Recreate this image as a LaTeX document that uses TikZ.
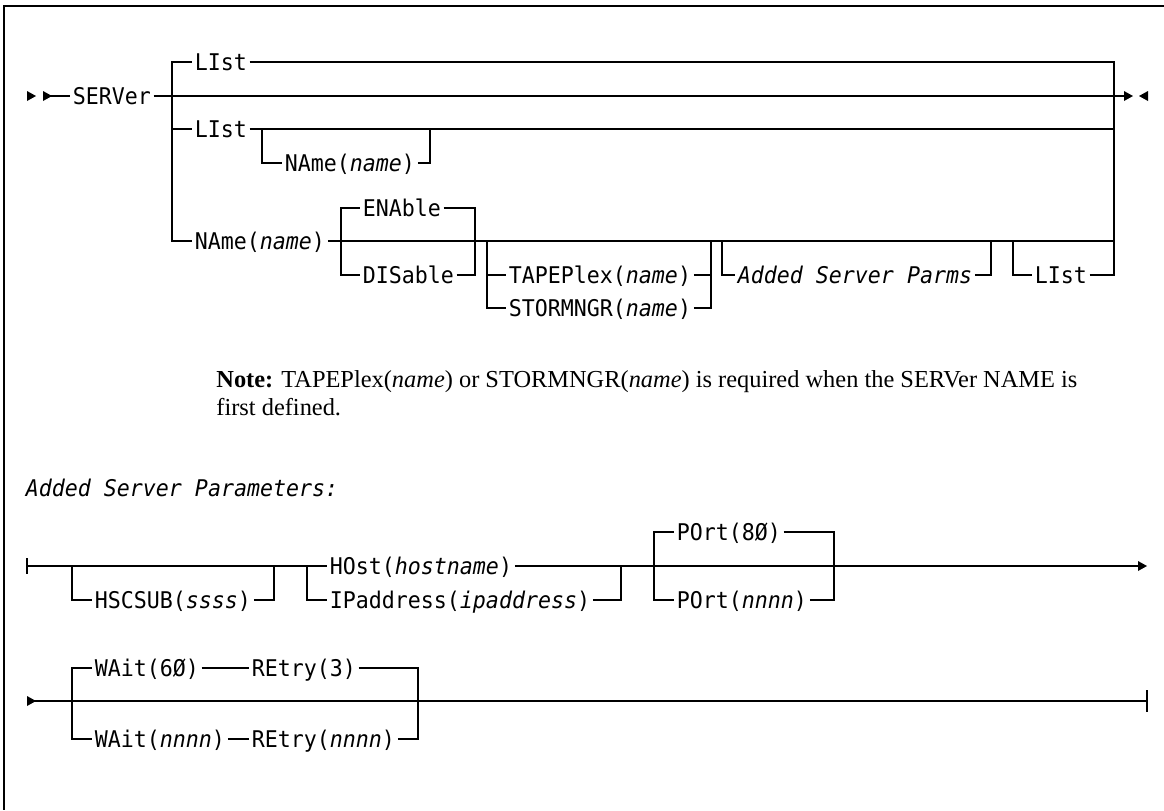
\documentclass[tikz,border=0pt]{standalone}
\usepackage{fontspec}
\setmainfont{Liberation Serif}
\newfontfamily\railfont[FakeStretch=0.94]{DejaVu Sans Mono}
\newcommand{\kwfont}{\railfont\fontsize{11.5pt}{14pt}\selectfont}
\newcommand{\notefont}{\fontsize{12.2pt}{14pt}\selectfont}
\usepackage{tikz}
\usepackage{xcolor}

\begin{document}
\begin{tikzpicture}[
        x=0.5pt, y=-0.5pt,
        kw/.style={font=\kwfont, anchor=west, inner xsep=1.2pt, inner ysep=0pt, text height=8.4pt, text depth=0pt},
        rail/.style={line width=0.85pt},
        rtri/.pic={\fill (0,-5) -- (9,0) -- (0,5) -- cycle;},
        ltri/.pic={\fill (0,0) -- (9,-5) -- (9,5) -- cycle;}
    ]
        \useasboundingbox (0,0) rectangle (1164,810);
        \draw[line width=1pt] (1164,6) -- (4,6) -- (4,810);

        \node[kw] (SV) at (70,96) {SERVer};
        \node[kw] (L1) at (192,62) {LIst};
        \node[kw] (L2) at (192,129) {LIst};
        \node[kw] (N2) at (282,163) {NAme(\textit{name})};
        \node[kw] (N3) at (192,241) {NAme(\textit{name})};
        \node[kw] (EN) at (360,208) {ENAble};
        \node[kw] (DI) at (360,275) {DISable};
        \node[kw] (TP) at (506,275) {TAPEPlex(\textit{name})};
        \node[kw] (SM) at (506,308) {STORMNGR(\textit{name})};
        \node[kw] (AP) at (735,275) {\textit{Added Server Parms}};
        \node[kw] (L3) at (1032,275) {LIst};

        \coordinate (st) at (43,96);
        \coordinate (jl) at (172,96);
        \coordinate (jr) at (1114,96);
        \coordinate (en) at (1124,96);
        \coordinate (k1) at (262,129);
        \coordinate (k2) at (430,129);
        \coordinate (e1) at (341,241);
        \coordinate (e2) at (475,241);
        \coordinate (t1) at (487,241);
        \coordinate (t2) at (711,241);
        \coordinate (g1) at (722,241);
        \coordinate (g2) at (991,241);
        \coordinate (h1) at (1013,241);

        \pic at (27,96) {rtri};
        \pic at (st) {rtri};
        \pic at (en) {rtri};
        \pic at (1139,96) {ltri};
        \draw[rail] (st) -- (SV.west);
        \draw[rail] (SV.east) -- (en);
        \draw[rail] (jl) |- (L1.west);
        \draw[rail] (jl) |- (L2.west);
        \draw[rail] (jl) |- (N3.west);
        \draw[rail] (L1.east) -| (jr);
        \draw[rail] (L2.east) -| (jr);
        \draw[rail] (L3.east) -| (jr);
        \draw[rail] (k1) |- (N2.west);
        \draw[rail] (N2.east) -| (k2);
        \draw[rail] (N3.east) -- (N3.east -| jr);
        \draw[rail] (e1) |- (EN.west);
        \draw[rail] (e1) |- (DI.west);
        \draw[rail] (EN.east) -| (e2);
        \draw[rail] (DI.east) -| (e2);
        \draw[rail] (t1) |- (TP.west);
        \draw[rail] (t1) |- (SM.west);
        \draw[rail] (TP.east) -| (t2);
        \draw[rail] (SM.east) -| (t2);
        \draw[rail] (g1) |- (AP.west);
        \draw[rail] (AP.east) -| (g2);
        \draw[rail] (h1) |- (L3.west);

        \node[anchor=base west, inner sep=0pt, font=\notefont] (n1) at (216,387) {\textbf{Note:} TAPEPlex(\textit{name}) or STORMNGR(\textit{name}) is required when the SERVer NAME is};
        \node[anchor=base west, inner sep=0pt, font=\notefont] (n2) at (216,415) {first defined.};

        \node[kw] (AS) at (23,488) {\textit{Added Server Parameters:}};
        \node[kw] (HS) at (92,600) {HSCSUB(\textit{ssss})};
        \node[kw] (HO) at (327,566) {HOst(\textit{hostname})};
        \node[kw] (IP) at (327,600) {IPaddress(\textit{ipaddress})};
        \node[kw] (P1) at (674,532) {POrt(8Ø)};
        \node[kw] (P2) at (674,600) {POrt(\textit{nnnn})};

        \coordinate (b0) at (27,566);
        \coordinate (b1) at (72,566);
        \coordinate (b2) at (274,566);
        \coordinate (c1) at (307,566);
        \coordinate (c2) at (621,566);
        \coordinate (d1) at (654,566);
        \coordinate (d2) at (834,566);
        \coordinate (b9) at (1138,566);

        \draw[rail] (b0) ++(0,-8) -- ++(0,16);
        \draw[rail] (b0) -- (HO.west);
        \draw[rail] (HO.east) -- (b9);
        \pic at (b9) {rtri};
        \draw[rail] (b1) |- (HS.west);
        \draw[rail] (HS.east) -| (b2);
        \draw[rail] (c1) |- (IP.west);
        \draw[rail] (IP.east) -| (c2);
        \draw[rail] (d1) |- (P1.west);
        \draw[rail] (d1) |- (P2.west);
        \draw[rail] (P1.east) -| (d2);
        \draw[rail] (P2.east) -| (d2);

        \node[kw] (W1) at (92,668) {WAit(6Ø)};
        \node[kw] (R1) at (249,668) {REtry(3)};
        \node[kw] (W2) at (92,739) {WAit(\textit{nnnn})};
        \node[kw] (R2) at (249,739) {REtry(\textit{nnnn})};

        \coordinate (w0) at (27,701);
        \coordinate (w1) at (72,701);
        \coordinate (w2) at (418,701);
        \coordinate (w9) at (1147,701);

        \pic at (w0) {rtri};
        \draw[rail] (w0) -- (w9);
        \draw[rail] (w9) ++(0,-11) -- ++(0,22);
        \draw[rail] (w1) |- (W1.west);
        \draw[rail] (w1) |- (W2.west);
        \draw[rail] (W1.east) -- (R1.west);
        \draw[rail] (W2.east) -- (R2.west);
        \draw[rail] (R1.east) -| (w2);
        \draw[rail] (R2.east) -| (w2);
    \end{tikzpicture}
\end{document}
